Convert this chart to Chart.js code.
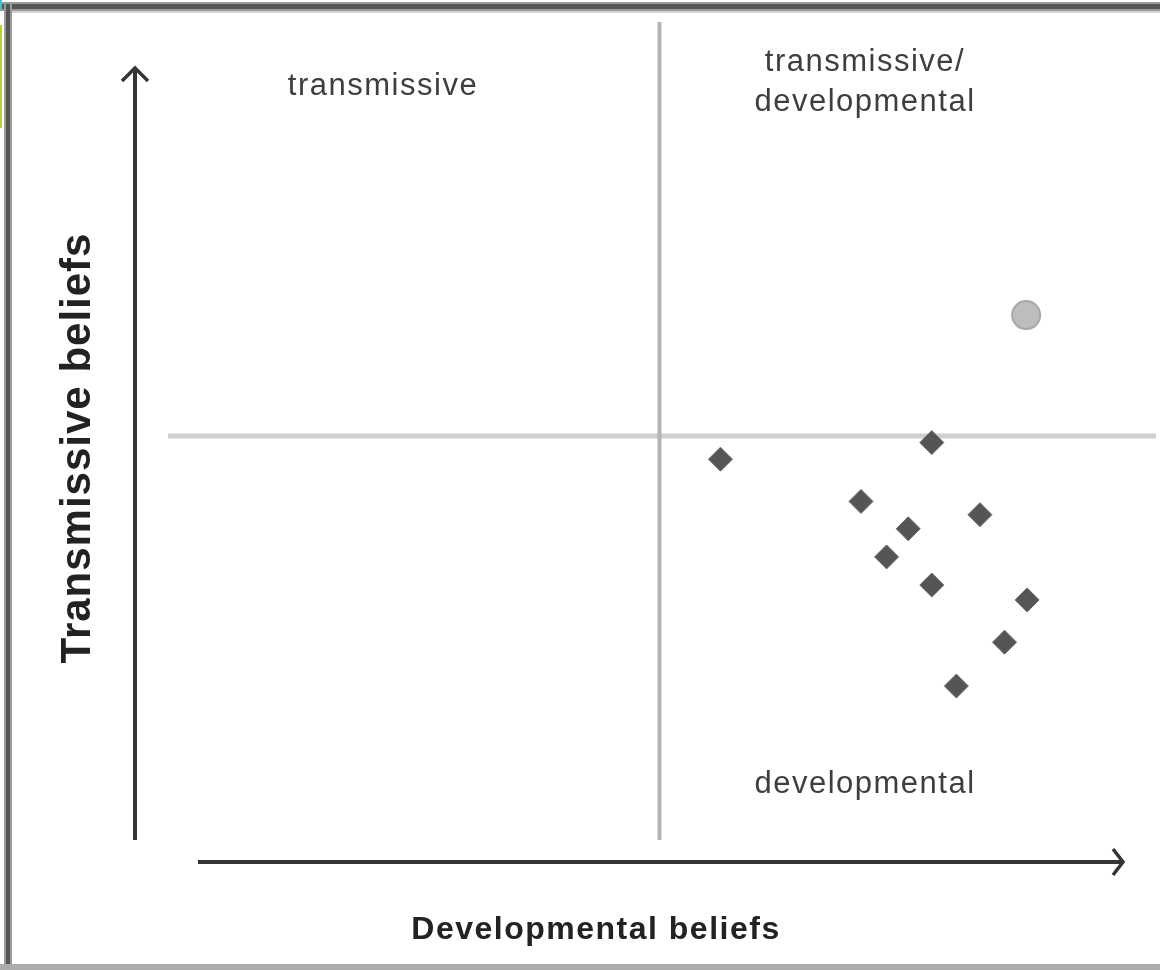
<!DOCTYPE html>
<html>
<head>
<meta charset="utf-8">
<script src="https://cdn.jsdelivr.net/npm/chart.js@4"></script>
<style>
  body { margin: 0; background: #fff; }
  #wrap { width: 1160px; height: 970px; }
</style>
</head>
<body>
<div id="wrap"><canvas id="beliefChart" width="1160" height="970"></canvas></div>
<script>
// developmental (x) / transmissive (y) scores, 0-10 scale, midpoint 5
const devScores = [5.62, 7.77, 7.05, 7.53, 8.26, 7.31, 7.77, 8.74, 8.51, 8.02];
const transScores = [4.72, 4.92, 4.21, 3.88, 4.05, 3.54, 3.20, 3.02, 2.51, 1.98];
const highlightDev = [8.73];
const highlightTrans = [6.46];
const axisMin = 0, axisMax = 10, midpoint = 5;
const quadrantLabels = ["transmissive", "transmissive/", "developmental", "developmental"];
const axisTitles = ["Developmental beliefs", "Transmissive beliefs"];

function toPoints(xs, ys) {
    return xs.map((x, i) => ({ x: x, y: ys[i] }));
}

// frame, arrows, quadrant lines and labels
const decor = {
    id: "decor",
    beforeDatasetsDraw(chart) {
        const ctx = chart.ctx;
        const area = chart.chartArea;
        const xs = chart.scales.x, ys = chart.scales.y;
        const cx = xs.getPixelForValue(midpoint);
        const cy = ys.getPixelForValue(midpoint);
        ctx.save();

        // outer frame
        ctx.fillStyle = "#9a9a9a"; ctx.fillRect(0, 2, 1160, 9);
        ctx.fillStyle = "#555555"; ctx.fillRect(0, 4, 1160, 5);
        ctx.fillStyle = "#d4d4d4"; ctx.fillRect(10, 11, 1150, 2);
        ctx.fillStyle = "#9a9a9a"; ctx.fillRect(4, 2, 8, 968);
        ctx.fillStyle = "#555555"; ctx.fillRect(6, 4, 4, 966);
        ctx.fillStyle = "#ababab"; ctx.fillRect(0, 964, 1160, 6);
        ctx.fillStyle = "#3cc6c6"; ctx.fillRect(0, 0, 2, 9);
        ctx.fillStyle = "#b6d23a"; ctx.fillRect(0, 25, 2, 103);

        // quadrant lines
        ctx.strokeStyle = "#d0d0d0";
        ctx.lineWidth = 5;
        ctx.beginPath();
        ctx.moveTo(area.left, cy); ctx.lineTo(1156, cy);
        ctx.stroke();
        ctx.strokeStyle = "#b4b4b4";
        ctx.lineWidth = 4;
        ctx.beginPath();
        ctx.moveTo(cx, area.top); ctx.lineTo(cx, area.bottom - 10);
        ctx.stroke();

        // axis arrows
        ctx.strokeStyle = "#353535";
        ctx.lineWidth = 4;
        ctx.lineCap = "butt";
        const ax = area.left - 33, axTop = area.top + 46, axBottom = area.bottom - 10;
        ctx.beginPath();
        ctx.moveTo(ax, axBottom); ctx.lineTo(ax, axTop);
        ctx.stroke();
        ctx.lineWidth = 3.5;
        ctx.beginPath();
        ctx.moveTo(ax - 13, axTop + 13); ctx.lineTo(ax, axTop); ctx.lineTo(ax + 13, axTop + 13);
        ctx.stroke();

        const ay = area.bottom + 12, ayLeft = 198, ayRight = 1123;
        ctx.lineWidth = 4;
        ctx.beginPath();
        ctx.moveTo(ayLeft, ay); ctx.lineTo(ayRight, ay);
        ctx.stroke();
        ctx.lineWidth = 3.5;
        ctx.beginPath();
        ctx.moveTo(ayRight - 10, ay - 13); ctx.lineTo(ayRight, ay); ctx.lineTo(ayRight - 10, ay + 13);
        ctx.stroke();

        // quadrant labels
        ctx.fillStyle = "#3e3e3e";
        ctx.textAlign = "center";
        ctx.textBaseline = "middle";
        ctx.font = "31px 'Liberation Sans', Arial, sans-serif";
        ctx.letterSpacing = "1.5px";
        ctx.fillText(quadrantLabels[0], 383, area.top + 64);
        ctx.fillText(quadrantLabels[1], 865, area.top + 40);
        ctx.fillText(quadrantLabels[2], 865, area.top + 80);
        ctx.fillText(quadrantLabels[3], 865, area.bottom - 66);

        // axis titles
        ctx.fillStyle = "#222";
        ctx.font = "bold 32px 'Liberation Sans', Arial, sans-serif";
        ctx.letterSpacing = "1.5px";
        ctx.fillText(axisTitles[0], 596, area.bottom + 80);
        ctx.save();
        ctx.translate(78, (area.top + area.bottom) / 2 + 12);
        ctx.rotate(-Math.PI / 2);
        ctx.font = "bold 42px 'Liberation Sans', Arial, sans-serif";
        ctx.letterSpacing = "1px";
        ctx.fillText(axisTitles[1], 0, 0);
        ctx.restore();

        ctx.restore();
    }
};

document.addEventListener("DOMContentLoaded", function () {
    const ctx = document.getElementById("beliefChart").getContext("2d");
    new Chart(ctx, {
        type: "scatter",
        data: {
            datasets: [
                {
                    label: "Teachers",
                    data: toPoints(devScores, transScores),
                    pointStyle: "rectRot",
                    radius: 12,
                    backgroundColor: "#555555",
                    borderColor: "#6a6a6a",
                    borderWidth: 1
                },
                {
                    label: "Highlight",
                    data: toPoints(highlightDev, highlightTrans),
                    pointStyle: "circle",
                    radius: 14,
                    backgroundColor: "#bdbdbd",
                    borderColor: "#a8a8a8",
                    borderWidth: 2
                }
            ]
        },
        options: {
            responsive: false,
            animation: false,
            devicePixelRatio: 1,
            layout: { autoPadding: false, padding: { left: 168, right: 9, top: 22, bottom: 120 } },
            scales: {
                x: { display: false, min: axisMin, max: axisMax },
                y: { display: false, min: axisMin, max: axisMax }
            },
            plugins: {
                legend: { display: false },
                tooltip: { enabled: false }
            }
        },
        plugins: [decor]
    });
});
</script>
</body>
</html>
